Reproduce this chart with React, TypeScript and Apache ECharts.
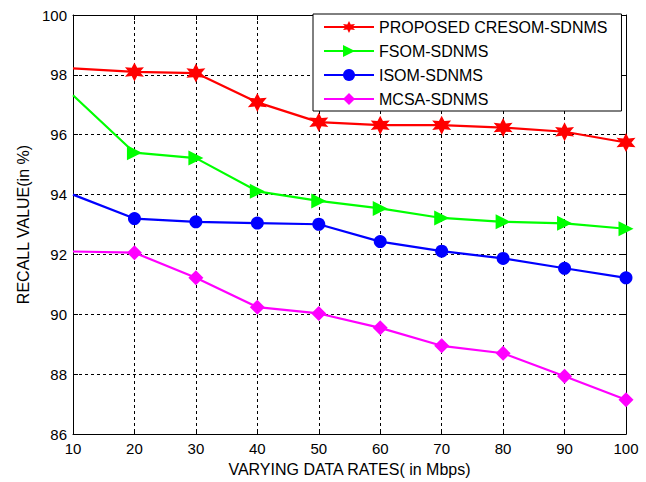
import React, { useEffect, useRef } from "react";
import * as echarts from "echarts";

const xValues = [10, 20, 30, 40, 50, 60, 70, 80, 90, 100];
const proposed = [98.22, 98.1, 98.06, 97.08, 96.42, 96.32, 96.32, 96.24, 96.1, 95.74];
const fsom = [97.32, 95.4, 95.22, 94.11, 93.79, 93.54, 93.22, 93.09, 93.04, 92.86];
const isom = [94.0, 93.2, 93.09, 93.05, 93.01, 92.43, 92.11, 91.87, 91.54, 91.22];
const mcsa = [92.1, 92.06, 91.22, 90.24, 90.03, 89.55, 88.95, 88.7, 87.93, 87.15];
const seriesNames = ["PROPOSED CRESOM-SDNMS", "FSOM-SDNMS", "ISOM-SDNMS", "MCSA-SDNMS"];
const FONT = "Liberation Sans";

function hexagramPath(): string {
  const pts: string[] = [];
  for (let i = 0; i < 12; i++) {
    const a = (-90 + i * 30) * Math.PI / 180;
    const r = i % 2 === 0 ? 10 : 5;
    pts.push(`${(10 + r * Math.cos(a)).toFixed(2)},${(10 + r * Math.sin(a)).toFixed(2)}`);
  }
  return "path://M" + pts.join(" L") + " Z";
}

export default function App() {
  const ref = useRef<HTMLDivElement>(null);
  useEffect(() => {
    if (!ref.current) return;
    const chart = echarts.init(ref.current, null, { renderer: "svg" });
    const mk = (vals: number[]) =>
      vals.map((v, i) => (i === 0 ? { value: [xValues[i], v], symbol: "none" } : { value: [xValues[i], v] }));
    const colors = ["#ff0000", "#00ff00", "#0000ff", "#ff00ff"];
    const symbols = [hexagramPath(), "path://M0,0 L10,5 L0,10 Z", "circle", "diamond"];
    const sizes = [19, 15, 13, 15];
    const all = [proposed, fsom, isom, mcsa];
    const tickLabel = { color: "#000", fontSize: 15, fontFamily: FONT };
    chart.setOption({
      animation: false,
      backgroundColor: "#fff",
      grid: { left: 73, right: 20, top: 15, bottom: 46, containLabel: false },
      legend: {
        orient: "vertical",
        left: 313,
        top: 14,
        backgroundColor: "#fff",
        borderColor: "#000",
        borderWidth: 1,
        borderRadius: 0,
        padding: [5, 14, 4, 10],
        itemGap: 8,
        itemWidth: 50,
        itemHeight: 15,
        textStyle: { color: "#000", fontSize: 16, fontFamily: FONT },
        data: seriesNames,
      },
      xAxis: [
        {
          type: "value",
          min: 10,
          max: 100,
          interval: 10,
          position: "bottom",
          axisLine: { show: true, lineStyle: { color: "#000", width: 1 } },
          axisTick: { show: true, inside: true, length: 5, lineStyle: { color: "#000" } },
          axisLabel: { ...tickLabel, margin: 7 },
          splitLine: { show: true, lineStyle: { color: "#000", type: [3, 3], width: 1 } },
          name: "VARYING DATA RATES( in Mbps)",
          nameLocation: "middle",
          nameGap: 24,
          nameTextStyle: { color: "#000", fontSize: 16, fontFamily: FONT },
        },
        {
          type: "value",
          min: 10,
          max: 100,
          interval: 10,
          position: "top",
          axisLine: { show: true, lineStyle: { color: "#000", width: 1 } },
          axisTick: { show: true, inside: true, length: 5, lineStyle: { color: "#000" } },
          axisLabel: { show: false },
          splitLine: { show: false },
        },
      ],
      yAxis: [
        {
          type: "value",
          min: 86,
          max: 100,
          interval: 2,
          position: "left",
          axisLine: { show: true, lineStyle: { color: "#000", width: 1 } },
          axisTick: { show: true, inside: true, length: 5, lineStyle: { color: "#000" } },
          axisLabel: { ...tickLabel, margin: 6 },
          splitLine: { show: true, lineStyle: { color: "#000", type: [3, 3], width: 1 } },
          name: "RECALL VALUE(in %)",
          nameLocation: "middle",
          nameGap: 35,
          nameRotate: 90,
          nameTextStyle: { color: "#000", fontSize: 16, fontFamily: FONT },
        },
        {
          type: "value",
          min: 86,
          max: 100,
          interval: 2,
          position: "right",
          axisLine: { show: true, lineStyle: { color: "#000", width: 1 } },
          axisTick: { show: true, inside: true, length: 5, lineStyle: { color: "#000" } },
          axisLabel: { show: false },
          splitLine: { show: false },
        },
      ],
      series: all.map((vals, i) => ({
        name: seriesNames[i],
        type: "line",
        xAxisIndex: 0,
        yAxisIndex: 0,
        data: mk(vals),
        symbol: symbols[i],
        symbolSize: sizes[i],
        showSymbol: true,
        color: colors[i],
        lineStyle: { color: colors[i], width: 2.2 },
        itemStyle: { color: colors[i], borderWidth: 0 },
        clip: false,
      })),
    });
    return () => chart.dispose();
  }, []);
  return (
    <div
      ref={ref}
      style={{ position: "absolute", left: 0, top: 0, width: 646, height: 482 }}
    />
  );
}
